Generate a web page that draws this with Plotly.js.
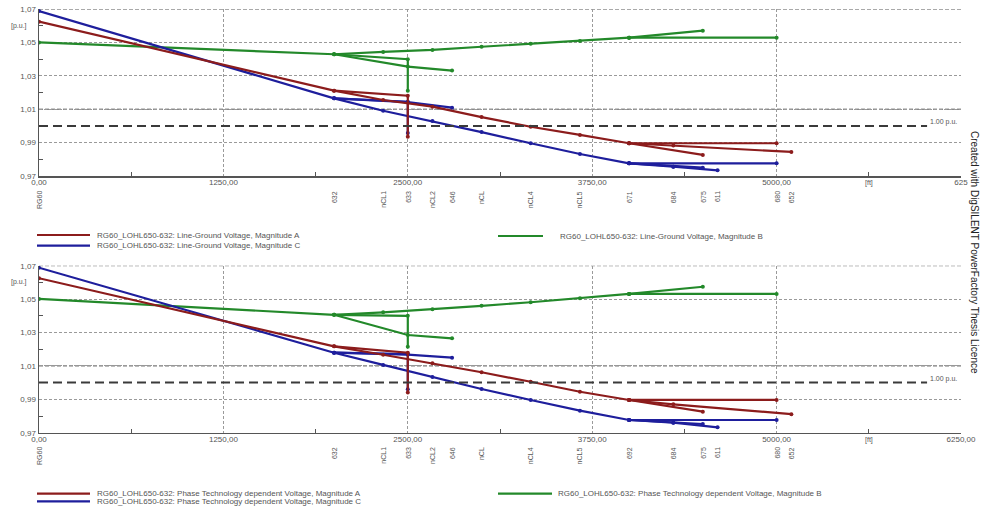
<!DOCTYPE html>
<html>
<head>
<meta charset="utf-8">
<script src="https://cdn.plot.ly/plotly-3.0.1.min.js"></script>
<style>html,body{margin:0;padding:0;background:#fff;}#chart{width:981px;height:509px;}</style>
</head>
<body>
<div id="chart"></div>
<script>
// ---------------- DATA ----------------
const nodeNames = ['RG60','632','633','634','645','646','nCL1','nCL2','nCL','nCL4','nCL5','671','692','684','652','611','675','680'];
const nodeDist  = [0,2000,2500,2500,2500,2800,2333,2667,3000,3333,3667,4000,4000,4300,5100,4600,4500,5000];

// Top chart: Line-Ground Voltage [p.u.]
const lgA = [1.0624,1.0211,1.0181,0.9935,null,null,1.0155,1.0115,1.0053,0.9995,0.9946,0.9896,0.9896,0.9882,0.9844,null,0.9826,0.9896];
const lgB = [1.0500,1.0429,1.0399,1.0211,1.0355,1.0331,1.0443,1.0455,1.0474,1.0492,1.0508,1.0528,1.0528,null,null,null,1.0570,1.0528];
const lgC = [1.0688,1.0165,1.0145,0.9958,1.0142,1.0109,1.0091,1.0029,0.9963,0.9896,0.9832,0.9776,0.9776,0.9756,null,0.9734,0.9750,0.9776];

// Bottom chart: Phase Technology dependent Voltage [p.u.]
const ptA = [1.0625,1.0217,1.0179,0.9940,null,null,1.0167,1.0116,1.0062,1.0005,0.9945,0.9896,0.9896,0.9870,0.9811,null,0.9826,0.9896];
const ptB = [1.0501,1.0406,1.0400,1.0215,1.0285,1.0265,1.0421,1.0439,1.0460,1.0481,1.0505,1.0531,1.0531,null,null,null,1.0574,1.0531];
const ptC = [1.0688,1.0179,1.0171,0.9960,1.0168,1.0149,1.0106,1.0034,0.9962,0.9896,0.9832,0.9776,0.9776,0.9760,null,0.9732,0.9752,0.9776];

const branches = [
  ['RG60','632','nCL1','nCL2','nCL','nCL4','nCL5','671','680'],
  ['632','633','634'],
  ['632','645','646'],
  ['671','692','675'],
  ['671','684','652'],
  ['684','611']
];

const topNodeLabels = ['RG60','632','nCL1','633','nCL2','646','nCL','nCL4','nCL5','671','684','675','611','680','652'];
const botNodeLabels = ['RG60','632','nCL1','633','nCL2','646','nCL','nCL4','nCL5','692','684','675','611','680','652'];

const xTickVals = [0,1250,2500,3750,5000,6250];
const xTickTextTop = ['0,00','1250,00','2500,00','3750,00','5000,00','625'];
const xTickTextBot = ['0,00','1250,00','2500,00','3750,00','5000,00','6250,00'];
const yTickVals = [0.97,0.99,1.01,1.03,1.05,1.07];
const yTickText = ['0,97','0,99','1,01','1,03','1,05','1,07'];
const darkGridY = [1.01, 1.07];
const refVoltage = 1.00;
const refLabel = '1.00 p.u.';
const xUnit = '[ft]';
const yUnit = '[p.u.]';

const namesTop = ['RG60_LOHL650-632: Line-Ground Voltage, Magnitude A',
                  'RG60_LOHL650-632: Line-Ground Voltage, Magnitude B',
                  'RG60_LOHL650-632: Line-Ground Voltage, Magnitude C'];
const namesBot = ['RG60_LOHL650-632: Phase Technology dependent Voltage, Magnitude A',
                  'RG60_LOHL650-632: Phase Technology dependent Voltage, Magnitude B',
                  'RG60_LOHL650-632: Phase Technology dependent Voltage, Magnitude C'];
const watermark = 'Created with DigSILENT PowerFactory Thesis Licence';

// ---------------- STYLE ----------------
const colA = '#8c1c1c', colB = '#23892a', colC = '#1e1e9c';
const W = 981, H = 509;
const FONT = 'Liberation Sans, Arial, sans-serif';
const px = v => v / W;
const py = v => 1 - v / H;

function buildXY(vals) {
  const x = [], y = [];
  branches.forEach(br => {
    const pts = [];
    br.forEach(n => {
      const i = nodeNames.indexOf(n);
      if (vals[i] !== null) pts.push([nodeDist[i], vals[i]]);
    });
    if (pts.length >= 2) {
      if (x.length) { x.push(null); y.push(null); }
      pts.forEach(p => { x.push(p[0]); y.push(p[1]); });
    }
  });
  return {x, y};
}

function mkTrace(vals, color, name, xa, ya) {
  const d = buildXY(vals);
  return {x: d.x, y: d.y, type: 'scatter', mode: 'lines+markers', name: name,
    xaxis: xa, yaxis: ya, showlegend: false, connectgaps: false,
    line: {color: color, width: 2.2}, marker: {color: color, size: 4}};
}

const traces = [
  mkTrace(lgB, colB, namesTop[1], 'x', 'y'),
  mkTrace(lgC, colC, namesTop[2], 'x', 'y'),
  mkTrace(lgA, colA, namesTop[0], 'x', 'y'),
  mkTrace(ptB, colB, namesBot[1], 'x2', 'y2'),
  mkTrace(ptC, colC, namesBot[2], 'x2', 'y2'),
  mkTrace(ptA, colA, namesBot[0], 'x2', 'y2')
];

const tickFont = {family: FONT, size: 8, color: '#555'};
function xAxis(anchor, ticktext) {
  return {domain: [px(39), px(961)], range: [0, 6250], anchor: anchor,
    tickmode: 'array', tickvals: xTickVals, ticktext: ticktext, tickfont: tickFont,
    ticks: '', ticklabelstandoff: -2, showgrid: true, gridcolor: '#9a9a9a', griddash: '3px,2px', gridwidth: 1,
    showline: true, linecolor: '#555', linewidth: 1.5, zeroline: false,
    minor: {tickmode: 'array', tickvals: [625,1875,3125,4375,5625], ticks: 'inside', ticklen: 4, tickcolor: '#555', showgrid: false},
    fixedrange: true};
}
function yAxis(anchor, dom) {
  return {domain: dom, range: [0.97, 1.07], anchor: anchor,
    tickmode: 'array', tickvals: yTickVals, ticktext: yTickText, tickfont: tickFont,
    ticks: '', showgrid: true, gridcolor: '#9a9a9a', griddash: '3px,2px', gridwidth: 1,
    showline: true, linecolor: '#555', linewidth: 1.5, zeroline: false,
    minor: {tickmode: 'array', tickvals: [0.98,1.00,1.02,1.04,1.06], ticks: 'inside', ticklen: 4, tickcolor: '#555', showgrid: false},
    fixedrange: true};
}

const annotations = [];
const shapes = [];

function addPlotDecor(xa, ya, nodeLabels, nodeLabelTop, tickLabelY) {
  darkGridY.forEach(v => {
    shapes.push({type: 'line', xref: xa, yref: ya, x0: 0, x1: 6250, y0: v, y1: v, layer: 'below',
      line: {color: '#555', width: 1, dash: '4px,2px'}});
  });
  // reference line
  shapes.push({type: 'line', xref: xa, yref: ya, x0: 0, x1: 6020, y0: refVoltage, y1: refVoltage,
    line: {color: '#3a3a3a', width: 2, dash: '9px,5px'}});
  annotations.push({xref: xa, yref: ya, x: 6030, y: refVoltage, xanchor: 'left', yanchor: 'middle', yshift: 4,
    text: refLabel, showarrow: false, bgcolor: '#fff', font: {family: FONT, size: 7, color: '#555'}, borderpad: 0});
  // units
  annotations.push({xref: 'paper', yref: ya, x: px(19), y: 1.06, xanchor: 'center', yanchor: 'middle',
    text: yUnit, showarrow: false, font: {family: FONT, size: 7, color: '#555'}});
  annotations.push({xref: xa, yref: 'paper', x: 5625, y: py(tickLabelY), xanchor: 'center', yanchor: 'middle',
    text: xUnit, showarrow: false, font: {family: FONT, size: 7, color: '#555'}});
  // node labels
  nodeLabels.forEach(n => {
    const i = nodeNames.indexOf(n);
    annotations.push({xref: xa, yref: 'paper', x: nodeDist[i], y: py(nodeLabelTop), xanchor: 'center', yanchor: 'top',
      text: n, textangle: -90, showarrow: false, font: {family: FONT, size: 7, color: '#555'}});
  });
}
addPlotDecor('x', 'y', topNodeLabels, 189, 183);
addPlotDecor('x2', 'y2', botNodeLabels, 445, 440);

function addLegendItem(x0, x1, yy, color, textX, text) {
  shapes.push({type: 'line', xref: 'paper', yref: 'paper', x0: px(x0), x1: px(x1), y0: py(yy), y1: py(yy),
    line: {color: color, width: 2.2}});
  annotations.push({xref: 'paper', yref: 'paper', x: px(textX), y: py(yy), xanchor: 'left', yanchor: 'middle',
    text: text, showarrow: false, font: {family: FONT, size: 8, color: '#555'}});
}
addLegendItem(37, 90, 235, colA, 95, namesTop[0]);
addLegendItem(37, 90, 245.7, colC, 95, namesTop[2]);
addLegendItem(498, 543, 236, colB, 558, namesTop[1]);
addLegendItem(37, 90, 493.7, colA, 95, namesBot[0]);
addLegendItem(37, 90, 501.3, colC, 95, namesBot[2]);
addLegendItem(498, 552, 493.7, colB, 556, namesBot[1]);

annotations.push({xref: 'paper', yref: 'paper', x: px(974), y: py(252), xanchor: 'center', yanchor: 'middle',
  text: watermark, textangle: 90, showarrow: false, font: {family: FONT, size: 10, color: '#222'}});

const layout = {
  width: W, height: H, autosize: false,
  margin: {l: 0, r: 0, t: 0, b: 0},
  paper_bgcolor: '#fff', plot_bgcolor: '#fff',
  showlegend: false,
  xaxis: xAxis('y', xTickTextTop),
  yaxis: yAxis('x', [py(176), py(9)]),
  xaxis2: xAxis('y2', xTickTextBot),
  yaxis2: yAxis('x2', [py(432.7), py(265.7)]),
  shapes: shapes,
  annotations: annotations,
  font: {family: FONT}
};

Plotly.newPlot('chart', traces, layout, {displayModeBar: false, staticPlot: true});
</script>
</body>
</html>
